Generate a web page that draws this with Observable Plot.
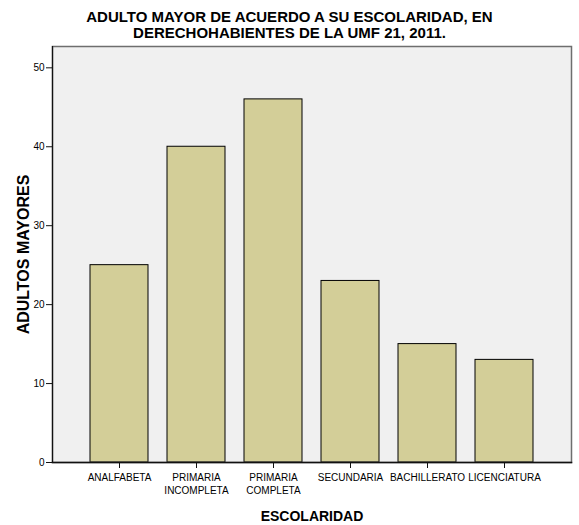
<!DOCTYPE html>
<html><head><meta charset="utf-8">
<script src="https://cdn.jsdelivr.net/npm/d3@7"></script>
<script src="https://cdn.jsdelivr.net/npm/@observablehq/plot@0.6"></script>
<style>
body{margin:0;background:#fff;font-family:"Liberation Sans",Arial,sans-serif;}
#title{width:579px;text-align:center;font-weight:bold;font-size:15px;line-height:16px;padding-top:9px;height:33px;color:#000;}
#chart svg{display:block;}
</style></head><body>
<div id="title">ADULTO MAYOR DE ACUERDO A SU ESCOLARIDAD, EN<br>DERECHOHABIENTES DE LA UMF 21, 2011.</div>
<div id="chart"></div>
<script>
const categories = ["ANALFABETA","PRIMARIA\nINCOMPLETA","PRIMARIA\nCOMPLETA","SECUNDARIA","BACHILLERATO","LICENCIATURA"];
const values = [25, 40, 46, 23, 15, 13];
const yTicks = [0, 10, 20, 30, 40, 50];
const xTitle = "ESCOLARIDAD";
const yTitle = "ADULTOS MAYORES";
const data = categories.map((c, i) => ({cat: c, n: values[i]}));

const plot = Plot.plot({
  width: 579, height: 483,
  marginTop: 4, marginLeft: 52, marginRight: 8, marginBottom: 63,
  style: {fontFamily: "'Liberation Sans', Arial, sans-serif", fontSize: "10px", background: "#fff", color: "#000"},
  x: {domain: categories, paddingInner: 0.25, paddingOuter: 0.452, axis: null},
  y: {domain: [0, 52.7], axis: null},
  marks: [
    Plot.frame({fill: "#f0f0f0", stroke: "none"}),
    Plot.barY(data, {x: "cat", y: "n", fill: "#d3ce98", stroke: "#000", strokeWidth: 1}),
    Plot.frame({stroke: "#6e6e6e", strokeWidth: 1.5}),
    Plot.frame({anchor: "left", stroke: "#111", strokeWidth: 1.2}),
    Plot.frame({anchor: "bottom", stroke: "#111", strokeWidth: 1.5}),
    Plot.axisY({ticks: yTicks, tickSize: 6, tickPadding: 2, label: null, fontSize: 10, stroke: "#111"}),
    Plot.axisX({tickSize: 6, tickPadding: 3, label: null, fontSize: 10, lineHeight: 1.3, stroke: "#111"}),
    Plot.text([xTitle], {frameAnchor: "bottom", dy: 58, fontWeight: "bold", fontSize: 14, fill: "#000"}),
    Plot.text([yTitle], {frameAnchor: "left", textAnchor: "middle", dx: -29, dy: 0, rotate: -90, fontWeight: "bold", fontSize: 16, fill: "#000"})
  ]
});
document.getElementById("chart").appendChild(plot);
</script>
</body></html>
